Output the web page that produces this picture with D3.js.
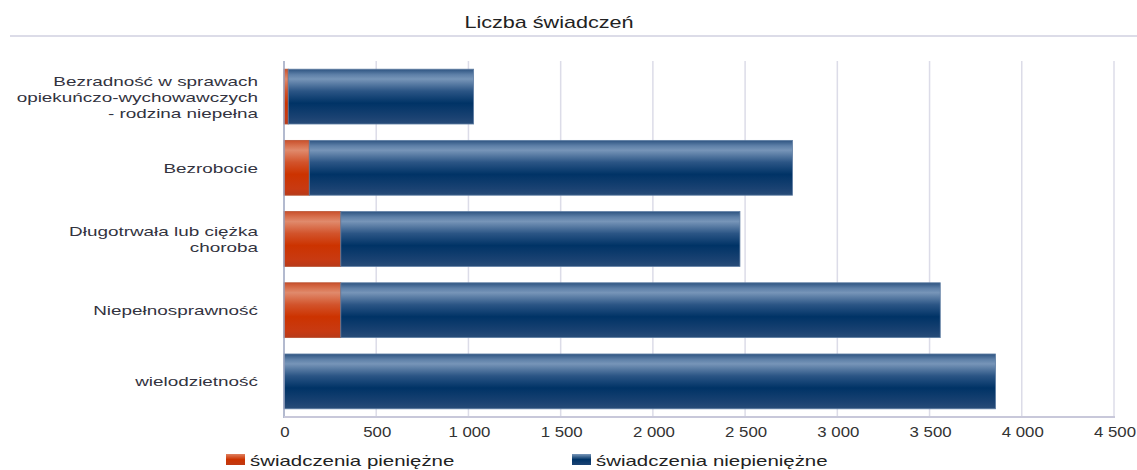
<!DOCTYPE html>
<html>
<head>
<meta charset="utf-8">
<script src="https://cdn.jsdelivr.net/npm/d3@7"></script>
<style>
    body { margin: 0; background: #fff; }
    text { font-family: "Liberation Sans", Arial, sans-serif; }
</style>
</head>
<body>
<div id="wrapper"></div>
<script>
const categories = [
    "Bezradność w sprawach|opiekuńczo-wychowawczych|- rodzina niepełna",
    "Bezrobocie",
    "Długotrwała lub ciężka|choroba",
    "Niepełnosprawność",
    "wielodzietność",
]
const seriesNames = ["świadczenia pieniężne", "świadczenia niepieniężne"]
const pieniezne = [23, 137, 308, 308, 0]
const niepieniezne = [1005, 2620, 2164, 3250, 3858]
const xTicks = [0, 500, 1000, 1500, 2000, 2500, 3000, 3500, 4000, 4500]

function drawChart() {
    let dimensions = {
        width: 1137,
        height: 470,
        margin: { top: 61, right: 23, bottom: 53, left: 284 },
    }
    dimensions.boundedWidth = dimensions.width - dimensions.margin.left - dimensions.margin.right
    dimensions.boundedHeight = dimensions.height - dimensions.margin.top - dimensions.margin.bottom

    const wrapper = d3.select("#wrapper")
        .append("svg")
        .attr("width", dimensions.width)
        .attr("height", dimensions.height)

    // gradients
    const defs = wrapper.append("defs")
    const makeGradient = (id, stops) => {
        const g = defs.append("linearGradient")
            .attr("id", id)
            .attr("x1", 0).attr("y1", 0).attr("x2", 0).attr("y2", 1)
        stops.forEach(([o, c]) => g.append("stop").attr("offset", o).attr("stop-color", c))
    }
    makeGradient("gradRed", [
        [0, "#c9502c"], [0.1, "#d8724f"], [0.18, "#e08a6c"],
        [0.4, "#d2532b"], [0.62, "#cc3300"], [0.88, "#c83a12"], [1, "#b83a1a"],
    ])
    makeGradient("gradBlue", [
        [0, "#2e5481"], [0.1, "#5e80a8"], [0.18, "#7795b8"],
        [0.4, "#2b5585"], [0.62, "#003366"], [0.88, "#1a4272"], [1, "#284c78"],
    ])
    makeGradient("gradRedLeg", [[0, "#e0805f"], [0.5, "#cc3300"], [1, "#c03a14"]])
    makeGradient("gradBlueLeg", [[0, "#7a98ba"], [0.5, "#003366"], [1, "#1d4474"]])

    // title
    wrapper.append("text")
        .attr("transform", "translate(549, 28) scale(1.27, 1)")
        .attr("text-anchor", "middle")
        .attr("font-size", 17)
        .attr("fill", "#222")
        .text("Liczba świadczeń")

    wrapper.append("rect")
        .attr("x", 10).attr("y", 35)
        .attr("width", dimensions.width - 10).attr("height", 2)
        .attr("fill", "#dcdce8")

    const bounds = wrapper.append("g")
        .attr("transform", `translate(${dimensions.margin.left}, ${dimensions.margin.top})`)

    const xScaler = d3.scaleLinear()
        .domain([0, 4500])
        .range([0, dimensions.boundedWidth])

    const yScaler = d3.scaleBand()
        .domain(categories)
        .range([0, dimensions.boundedHeight])
        .paddingInner(0.23)
        .paddingOuter(0.115)

    // grid
    bounds.append("g")
        .selectAll("line")
        .data(xTicks.slice(1))
        .join("line")
        .attr("x1", d => xScaler(d))
        .attr("x2", d => xScaler(d))
        .attr("y1", 0)
        .attr("y2", dimensions.boundedHeight)
        .attr("stroke", "#dcdce8")
        .attr("stroke-width", 1.5)

    // stacked bars
    const rows = categories.map((c, i) => ({ cat: c, a: pieniezne[i], b: niepieniezne[i] }))
    const stacked = d3.stack().keys(["a", "b"])(rows)
    const fills = ["url(#gradRed)", "url(#gradBlue)"]
    const strokes = ["#b8502f", "#5f7ea3"]

    bounds.append("g")
        .selectAll("g")
        .data(stacked)
        .join("g")
        .each(function (series, si) {
            d3.select(this).selectAll("rect")
                .data(series.filter(d => d[1] - d[0] > 0))
                .join("rect")
                .attr("x", d => xScaler(d[0]))
                .attr("y", d => yScaler(d.data.cat))
                .attr("width", d => xScaler(d[1]) - xScaler(d[0]))
                .attr("height", yScaler.bandwidth())
                .attr("fill", fills[si])
                .attr("stroke", strokes[si])
                .attr("stroke-width", 0.8)
        })

    // left axis line
    bounds.append("line")
        .attr("x1", 0).attr("x2", 0)
        .attr("y1", 0).attr("y2", dimensions.boundedHeight + 1)
        .attr("stroke", "#9aa3bf")
        .attr("stroke-width", 1.5)

    // bottom axis line
    bounds.append("line")
        .attr("x1", 0).attr("x2", dimensions.boundedWidth + 1)
        .attr("y1", dimensions.boundedHeight).attr("y2", dimensions.boundedHeight)
        .attr("stroke", "#c8c8da")
        .attr("stroke-width", 2)

    // x tick labels
    const fmt = d => d3.format(",")(d).replace(/,/g, " ")
    bounds.append("g")
        .selectAll("text")
        .data(xTicks)
        .join("text")
        .attr("transform", d => `translate(${xScaler(d) + 1}, ${dimensions.boundedHeight + 20}) scale(1.12, 1)`)
        .attr("text-anchor", "middle")
        .attr("font-size", 15)
        .attr("fill", "#333")
        .text(fmt)

    // y labels
    const lineHeight = 16
    const labels = bounds.append("g")
        .selectAll("g")
        .data(categories)
        .join("g")
        .attr("transform", d => `translate(-26, ${yScaler(d) + yScaler.bandwidth() / 2})`)
    labels.each(function (d) {
        const lines = d.split("|")
        const offset = -(lines.length - 1) * lineHeight / 2
        d3.select(this).selectAll("text")
            .data(lines)
            .join("text")
            .attr("transform", (l, i) => `translate(0, ${offset + i * lineHeight + 5}) scale(1.42, 1)`)
            .attr("text-anchor", "end")
            .attr("font-size", 13.3)
            .attr("fill", "#333340")
            .text(l => l)
    })

    // legend
    const legendX = [226, 572]
    const legendFills = ["url(#gradRedLeg)", "url(#gradBlueLeg)"]
    const legend = wrapper.append("g")
        .selectAll("g")
        .data(seriesNames)
        .join("g")
        .attr("transform", (d, i) => `translate(${legendX[i]}, 454)`)
    legend.append("rect")
        .attr("width", 19).attr("height", 11)
        .attr("fill", (d, i) => legendFills[i])
    legend.append("text")
        .attr("transform", "translate(24, 12) scale(1.46, 1)")
        .attr("font-size", 14)
        .attr("fill", "#222")
        .text(d => d)
}

drawChart()
</script>
</body>
</html>
